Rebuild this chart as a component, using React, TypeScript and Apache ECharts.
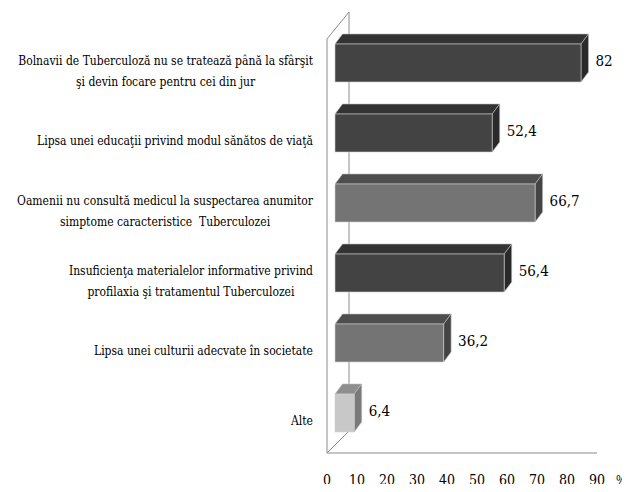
import React, { useEffect, useRef } from "react";
import * as echarts from "echarts";

const categories: string[] = [
  "Bolnavii de Tuberculoză nu se tratează până la sfârşit\nşi devin focare pentru cei din jur",
  "Lipsa unei educaţii privind modul sănătos de viaţă",
  "Oamenii nu consultă medicul la suspectarea anumitor\nsimptome caracteristice  Tuberculozei",
  "Insuficienţa materialelor informative privind\nprofilaxia şi tratamentul Tuberculozei",
  "Lipsa unei culturii adecvate în societate",
  "Alte",
];
const values: number[] = [82, 52.4, 66.7, 56.4, 36.2, 6.4];
const xTicks: number[] = [0, 10, 20, 30, 40, 50, 60, 70, 80, 90];
const unitLabel = "%";

// shade per bar: 0 dark, 1 medium, 2 light
const shadeOf: number[] = [0, 0, 1, 0, 1, 2];
const palettes = [
  { front: "#434343", top: "#333333", side: "#2a2a2a" },
  { front: "#747474", top: "#4e4e4e", side: "#444444" },
  { front: "#c8c8c8", top: "#8e8e8e", side: "#7a7a7a" },
];

const FONT = "DejaVu Serif Condensed, DejaVu Serif, serif";

export default function App() {
  const ref = useRef<HTMLDivElement>(null);
  useEffect(() => {
    if (!ref.current) return;
    const chart = echarts.init(ref.current, undefined, { renderer: "svg" });
    const gridLeft = 327;
    const gridTop = 36;
    const gridRight = 33;
    const gridBottom = 36;
    const baseY = 453;
    const lineColor = "#8c8c8c";
    const option: any = {
      animation: false,
      backgroundColor: "#ffffff",
      textStyle: { fontFamily: FONT },
      grid: {
        left: gridLeft,
        right: gridRight,
        top: gridTop,
        bottom: gridBottom,
        containLabel: false,
        outerBoundsMode: "none",
      },
      xAxis: {
        type: "value",
        min: xTicks[0],
        max: xTicks[xTicks.length - 1],
        interval: 10,
        axisLine: { show: false },
        axisTick: { show: false },
        splitLine: { show: false },
        axisLabel: {
          margin: 17,
          fontFamily: FONT,
          fontSize: 14,
          color: "#000",
          formatter: (v: number) => String(v),
        },
        name: unitLabel,
        nameLocation: "end",
        nameGap: 19,
        nameTextStyle: {
          fontFamily: FONT,
          fontSize: 12,
          color: "#000",
          verticalAlign: "top",
          padding: [19, 0, 0, 0],
        },
      },
      yAxis: {
        type: "category",
        inverse: true,
        data: categories,
        axisLine: { show: false },
        axisTick: { show: false },
        splitLine: { show: false },
        axisLabel: {
          margin: 14,
          interval: 0,
          fontFamily: FONT,
          fontSize: 12,
          formatter: (v: string) =>
            v
              .split("\n")
              .map((l) => `{c|${l}}`)
              .join("\n"),
          rich: {
            c: {
              align: "center",
              fontFamily: FONT,
              fontSize: 12,
              lineHeight: 21,
              color: "#000",
            },
          },
        },
      },
      graphic: [
        {
          type: "polyline",
          z: 0,
          silent: true,
          shape: { points: [[gridLeft, baseY], [gridLeft, 39], [349, 12], [349, 432]] },
          style: { stroke: lineColor, lineWidth: 1, fill: null },
        },
        {
          type: "line",
          z: 0,
          silent: true,
          shape: { x1: gridLeft, y1: baseY, x2: 349, y2: 431 },
          style: { stroke: lineColor, lineWidth: 1 },
        },
        {
          type: "line",
          z: 0,
          silent: true,
          shape: { x1: gridLeft, y1: baseY, x2: 597, y2: baseY },
          style: { stroke: lineColor, lineWidth: 1.2 },
        },
      ],
      series: [
        {
          type: "custom",
          z: 5,
          data: values.map((v, i) => [v, i]),
          encode: { x: 0, y: 1 },
          renderItem: (params: any, api: any) => {
            const v = api.value(0);
            const idx = api.value(1);
            const end = api.coord([v, idx]);
            const start = api.coord([0, idx]);
            const pal = palettes[shadeOf[params.dataIndex]];
            const off = 8;
            const dx = 7.5;
            const dy = 10;
            const half = 19;
            const cy = end[1] - 8;
            const x0 = start[0] + off;
            const x1 = end[0] + off;
            const yT = cy - half;
            const yB = cy + half;
            const label = String(v).replace(".", ",");
            return {
              type: "group",
              children: [
                {
                  type: "polygon",
                  shape: { points: [[x0, yT], [x1, yT], [x1 + dx, yT - dy], [x0 + dx, yT - dy]] },
                  style: { fill: pal.top, stroke: "#bdbdbd", lineWidth: 0.6 },
                },
                {
                  type: "polygon",
                  shape: { points: [[x1, yT], [x1 + dx, yT - dy], [x1 + dx, yB - dy], [x1, yB]] },
                  style: { fill: pal.side, stroke: "#bdbdbd", lineWidth: 0.6 },
                },
                {
                  type: "rect",
                  shape: { x: x0, y: yT, width: x1 - x0, height: yB - yT },
                  style: { fill: pal.front, stroke: "#d0d0d0", lineWidth: 0.6 },
                },
                {
                  type: "text",
                  style: {
                    text: label,
                    x: x1 + dx + 7,
                    y: cy - 2,
                    textAlign: "left",
                    textVerticalAlign: "middle",
                    align: "left",
                    verticalAlign: "middle",
                    fontFamily: FONT,
                    fontSize: 15,
                    fill: "#000",
                  },
                },
              ],
            };
          },
        },
      ],
    };
    chart.setOption(option);
    return () => chart.dispose();
  }, []);
  return <div ref={ref} style={{ width: 630, height: 492, margin: -8 }} />;
}
